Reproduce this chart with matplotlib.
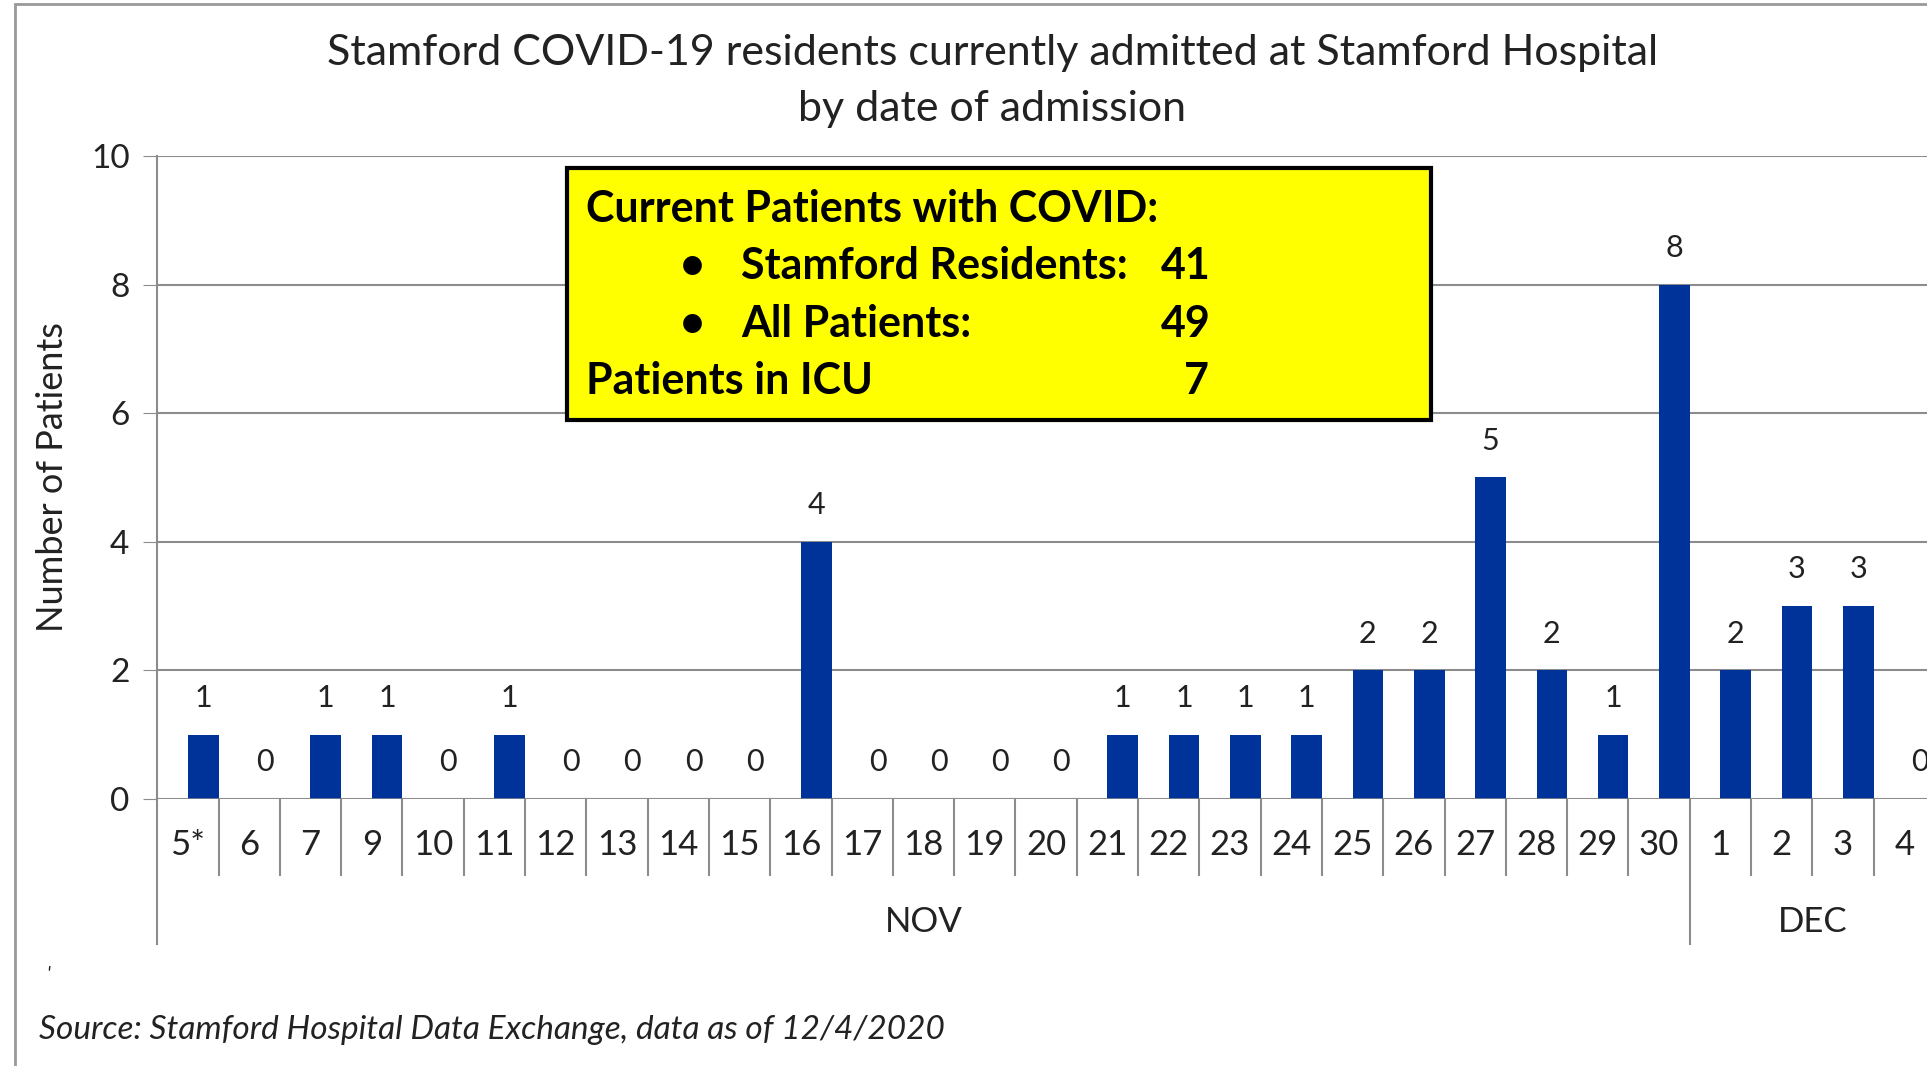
import numpy as np
import matplotlib
matplotlib.use('Agg')
import matplotlib.pyplot as plt
from matplotlib.patches import Rectangle
import matplotlib.transforms as mtransforms

plt.rcParams['font.family'] = ['Lato', 'DejaVu Sans']

# data
days = ['5*', '6', '7', '9', '10', '11', '12', '13', '14', '15', '16', '17', '18', '19', '20',
        '21', '22', '23', '24', '25', '26', '27', '28', '29', '30', '1', '2', '3', '4']
patients = [1, 0, 1, 1, 0, 1, 0, 0, 0, 0, 4, 0, 0, 0, 0,
            1, 1, 1, 1, 2, 2, 5, 2, 1, 8, 2, 3, 3, 0]
months = ['NOV', 'DEC']
month_len = [25, 4]

box_rows = ['Stamford Residents:', 'All Patients:']
box_vals = [41, 49]
icu = 7

grid_c = '#8c8c8c'
txt_c = '#222222'
fig = plt.figure(figsize=(19.27, 10.66), dpi=100)
ax = fig.add_axes([0.0816, 0.2505, 0.9184, 0.6032])

x = np.arange(len(days))
ax.bar(x, patients, width=0.5, align='edge', color='#003399', zorder=3)
for xi, v in zip(x, patients):
    ax.text(xi + 0.25, v + 0.57, str(v), ha='center', va='center', fontsize=22, color=txt_c)

ax.set_ylim(0, 10)
ax.set_xlim(-0.5, 28.37)
ax.set_yticks([0, 2, 4, 6, 8, 10])
ax.tick_params(axis='y', length=10, color=grid_c, labelsize=24, pad=10, labelcolor=txt_c)
ax.set_xticks([])
ax.yaxis.grid(True, color=grid_c, lw=1.5, zorder=0)
for s in ['top', 'right', 'bottom']:
    ax.spines[s].set_visible(False)
ax.spines['left'].set_color(grid_c)
ax.spines['left'].set_linewidth(1.5)
ax.axhline(0, color=grid_c, lw=1.8, zorder=4)
ax.set_ylabel('Number of Patients', fontsize=26, labelpad=16, color=txt_c)

# category axis with separators
trans = mtransforms.blended_transform_factory(ax.transData, ax.transAxes)
bounds = np.cumsum([0] + month_len) - 0.5
for b in np.arange(-0.5, len(days), 1.0):
    long = b in bounds
    ax.plot([b, b], [0, -0.2255 if long else -0.118], transform=trans, color=grid_c,
            lw=1.5, clip_on=False)
for xi, d in zip(x, days):
    ax.text(xi, -0.072, d, transform=trans, ha='center', va='center', fontsize=25, color=txt_c)
for m, a, n in zip(months, bounds[:-1], month_len):
    ax.text(a + n / 2, -0.192, m, transform=trans, ha='center', va='center', fontsize=25,
            color=txt_c)

# title
fig.text(0.515, 0.950, 'Stamford COVID-19 residents currently admitted at Stamford Hospital',
         ha='center', va='center', fontsize=31, color=txt_c)
fig.text(0.515, 0.898, 'by date of admission', ha='center', va='center', fontsize=31,
         color=txt_c)

# yellow info box
fig.patches.append(Rectangle((567 / 1927, 1 - 420 / 1066), 864 / 1927, 252 / 1066,
                             transform=fig.transFigure, facecolor='#ffff00',
                             edgecolor='black', lw=3, zorder=5))
bk = dict(fontsize=31, fontweight='bold', va='center', zorder=6, color='black')
fig.text(586 / 1927, 1 - 209 / 1066, 'Current Patients with COVID:', ha='left', **bk)
for i, (r, v) in enumerate(zip(box_rows, box_vals)):
    yy = 1 - (266 + 58 * i) / 1066
    fig.text(692 / 1927, yy, '\u2022', ha='center', **bk)
    fig.text(741 / 1927, yy, r, ha='left', **bk)
    fig.text(1211 / 1927, yy, str(v), ha='right', **bk)
fig.text(586 / 1927, 1 - 381 / 1066, 'Patients in ICU', ha='left', **bk)
fig.text(1209 / 1927, 1 - 381 / 1066, str(icu), ha='right', **bk)

# footer
fig.text(46 / 1927, 1 - 980 / 1066, "'", fontsize=14, style='italic', color=txt_c)
fig.text(39 / 1927, 1 - 1030 / 1066, 'Source: Stamford Hospital Data Exchange, data as of 12/4/2020',
         ha='left', va='center', fontsize=24, style='italic', color=txt_c)

# outer chart border
fig.patches.append(Rectangle((15 / 1927, -0.1), 1.2, 1 - 4 / 1066 + 0.1, transform=fig.transFigure,
                             facecolor='none', edgecolor='#999999', lw=2))

fig.savefig('out.png', dpi=100)
